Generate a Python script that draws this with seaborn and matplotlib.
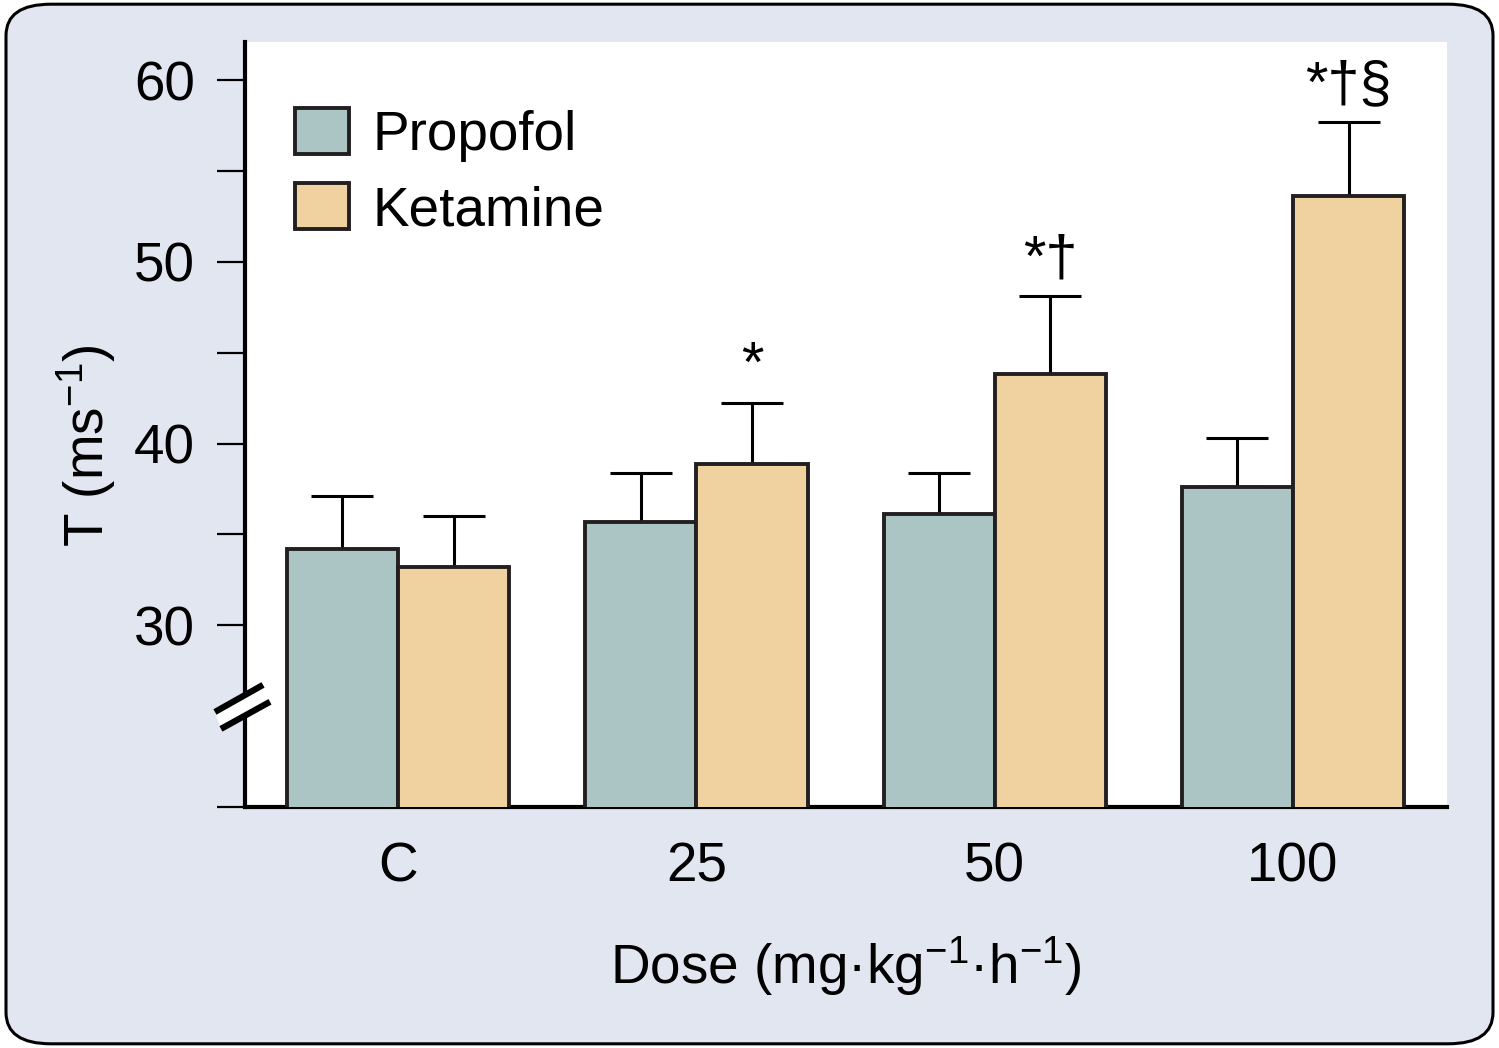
import matplotlib
matplotlib.use("Agg")
import matplotlib.pyplot as plt
import matplotlib.transforms as mtransforms
from matplotlib.patches import FancyBboxPatch, Polygon
import seaborn as sns
import pandas as pd
import numpy as np

# ---- data ----
doses = ["C", "25", "50", "100"]
propofol_mean = [34.2, 35.7, 36.15, 37.6]
propofol_err = [2.9, 2.7, 2.25, 2.7]
ketamine_mean = [33.2, 38.85, 43.85, 53.6]
ketamine_err = [2.8, 3.4, 4.25, 4.1]
ketamine_marks = ["", "*", "*†", "*†§"]
series = ["Propofol", "Ketamine"]
y_ticks = [20, 30, 40, 50, 60]
y_ticklabels = ["", "30", "40", "50", "60"]
y_minor = [35, 45, 55]

df = pd.DataFrame({
    "Dose": doses * 2,
    "Drug": [series[0]] * 4 + [series[1]] * 4,
    "T": propofol_mean + ketamine_mean,
})

sns.set_theme(style="white")
plt.rcParams["font.family"] = ["Liberation Sans", "DejaVu Sans"]
plt.rcParams["mathtext.fontset"] = "custom"
plt.rcParams["mathtext.rm"] = "Liberation Sans"
plt.rcParams["mathtext.it"] = "Liberation Sans"
plt.rcParams["mathtext.bf"] = "Liberation Sans"
for k in ["text.color", "axes.labelcolor", "xtick.color", "ytick.color"]:
    plt.rcParams[k] = "black"

FS = 39.5
EDGE = "#231f20"
pal = {"Propofol": "#abc5c5", "Ketamine": "#f0d1a0"}

fig = plt.figure(figsize=(14.99, 10.48), dpi=100, facecolor="white")
bg = FancyBboxPatch((0.004, 0.004), 0.992, 0.992,
                    boxstyle="round,pad=0,rounding_size=0.03",
                    transform=fig.transFigure, facecolor="#e1e6f0",
                    edgecolor="black", linewidth=2.2, zorder=-10)
fig.add_artist(bg)

ax = fig.add_axes([245/1499, 1 - 807/1048, (1447-245)/1499, (807-42)/1048])
ax.set_zorder(1)
ax.set_facecolor("white")

sns.barplot(data=df, x="Dose", y="T", hue="Drug", order=doses,
            hue_order=series, palette=pal, saturation=1, width=0.745,
            errorbar=None, edgecolor=EDGE, linewidth=2.8, ax=ax, zorder=3)

errs = [propofol_err, ketamine_err]
for cont, err in zip(ax.containers, errs):
    xs = [p.get_x() + p.get_width() / 2 for p in cont]
    hs = [p.get_height() for p in cont]
    ax.errorbar(xs, hs, yerr=[np.zeros(len(err)), err], fmt="none",
                ecolor="black", elinewidth=2.2, capsize=22, capthick=2.2,
                zorder=2)

# significance marks over ketamine bars
kcont = ax.containers[1]
for p, m, e in zip(kcont, ketamine_marks, ketamine_err):
    if m:
        ax.text(p.get_x() + p.get_width() / 2, p.get_height() + e + 1.15, m,
                ha="center", va="baseline", fontsize=FS + 2, color="black",
                zorder=5)

ax.set_ylim(20, 62.1)
ax.set_xlim(-0.513, 3.516)
ax.set_yticks(y_ticks)
ax.set_yticklabels(y_ticklabels)
ax.set_yticks(y_minor, minor=True)
ax.tick_params(axis="y", which="both", direction="out", length=20, width=1.6,
               color="black", pad=16, labelsize=FS, left=True)
ax.tick_params(axis="x", length=0, pad=25, labelsize=FS)

for s in ["top", "right"]:
    ax.spines[s].set_visible(False)
for s in ["left", "bottom"]:
    ax.spines[s].set_color("black")
    ax.spines[s].set_linewidth(3)

ax.set_xlabel("Dose (mg·kg$^{-1}$·h$^{-1}$)", fontsize=FS, labelpad=29)
ax.set_ylabel("T (ms$^{-1}$)", fontsize=FS)
ax.yaxis.set_label_coords(-0.106, 0.472)

# axis break marks
tr = mtransforms.blended_transform_factory(ax.transAxes, ax.transData)
gap = Polygon([(-0.025, 25.23), (0.015, 26.72), (0.0208, 25.79), (-0.020, 24.30)],
              closed=True, transform=tr, facecolor="white", edgecolor="none",
              clip_on=False, zorder=6)
ax.add_patch(gap)
ax.plot([-0.025, 0.015], [25.23, 26.72], transform=tr, color="black",
        lw=4.5, clip_on=False, zorder=7, solid_capstyle="butt")
ax.plot([-0.020, 0.0208], [24.30, 25.79], transform=tr, color="black",
        lw=4.5, clip_on=False, zorder=7, solid_capstyle="butt")

leg = ax.legend(loc="upper left", bbox_to_anchor=(0.0416, 0.9135),
                frameon=False, fontsize=FS, handlelength=0.98,
                handleheight=0.92, handletextpad=0.43, labelspacing=0.38,
                borderpad=0, borderaxespad=0)
for h in leg.legend_handles:
    h.set_edgecolor(EDGE)
    h.set_linewidth(2.8)

fig.savefig("out.png", dpi=100, facecolor="white")
